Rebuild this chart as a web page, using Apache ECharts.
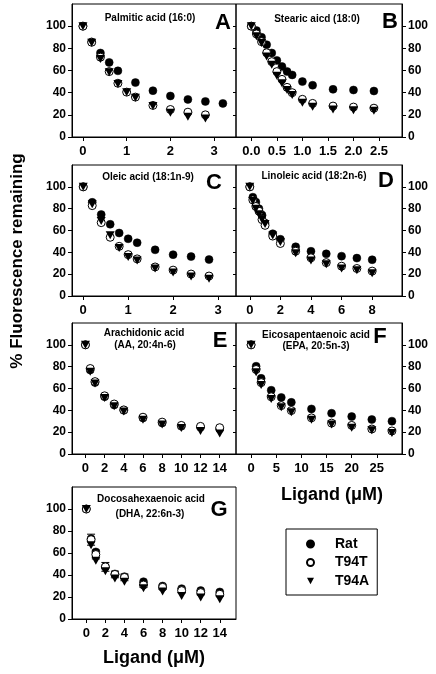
<!DOCTYPE html>
<html><head><meta charset="utf-8">
<script src="https://cdn.jsdelivr.net/npm/echarts@6/dist/echarts.min.js"></script>
<style>html,body{margin:0;padding:0;background:#fff}#c{width:436px;height:674px}</style>
</head><body><div id="c"></div>
<script>
// ---------------- DATA ----------------
const seriesNames = ['Rat', 'T94T', 'T94A'];
const yTicks = [0, 20, 40, 60, 80, 100];

// A: Palmitic acid (16:0)
const xA_rat = [0, 0.2, 0.4, 0.6, 0.8, 1.2, 1.6, 2.0, 2.4, 2.8, 3.2];
const ratA   = [100, 85.8, 75.8, 67.3, 59.7, 49.1, 41.8, 37, 33.9, 32.1, 30.3];
const xA_mut = [0, 0.2, 0.4, 0.6, 0.8, 1.0, 1.2, 1.6, 2.0, 2.4, 2.8];
const t94tA  = [100, 85.5, 72, 59, 48.5, 40.5, 36, 28.5, 24.8, 22.4, 20];
const t94aA  = [100, 85, 70.3, 58.5, 47.9, 40.3, 35.5, 27.9, 21.8, 18.2, 16.7];
const xTicksA = [0, 1, 2, 3];

// B: Stearic acid (18:0)
const xB    = [0, 0.1, 0.2, 0.3, 0.4, 0.5, 0.6, 0.7, 0.8, 1.0, 1.2, 1.6, 2.0, 2.4];
const ratB  = [100, 96, 90, 83.3, 75.8, 69.1, 63.6, 59.1, 56, 50, 46.7, 43, 42.4, 41.5];
const t94tB = [100, 93, 86, 76, 68, 59, 52, 44.8, 40, 34, 30.3, 27.9, 27, 26];
const t94aB = [100, 91, 84.8, 72.7, 65.2, 55.2, 48.5, 42.4, 37.9, 30.9, 27.3, 24.8, 24.2, 23.6];
const xTicksB = [0, 0.5, 1.0, 1.5, 2.0, 2.5];

// C: Oleic acid (18:1n-9)
const xC    = [0, 0.2, 0.4, 0.6, 0.8, 1.0, 1.2, 1.6, 2.0, 2.4, 2.8];
const ratC  = [100, 85.8, 74.6, 65.7, 57.7, 52.4, 48.8, 42.3, 37.9, 36.1, 33.4];
const t94tC = [100, 82.8, 67.2, 53.8, 45.5, 37.9, 34, 26.6, 23.7, 20.1, 18.3];
const t94aC = [100, 84, 68.6, 55.6, 44, 35.8, 32.5, 25.1, 21.6, 17.8, 15.7];
const xTicksC = [0, 1, 2, 3];

// D: Linoleic acid (18:2n-6)
const xD    = [0, 0.2, 0.4, 0.6, 0.8, 1.0, 1.5, 2, 3, 4, 5, 6, 7, 8];
const ratD  = [100, 90.5, 86, 80, 74.2, 66.8, 57, 52, 45.1, 41, 38.6, 36.5, 34.7, 33.2];
const t94tD = [100, 88, 82, 77.7, 70, 64.7, 54.9, 48.1, 41, 35, 30.6, 27.3, 25.2, 22.8];
const t94aD = [100, 87, 80, 75, 70, 66, 55.5, 49.5, 39.2, 32.6, 29.1, 25.2, 23.7, 20.8];
const xTicksD = [0, 2, 4, 6, 8];

// E: Arachidonic acid
const xE    = [0, 0.5, 1, 2, 3, 4, 6, 8, 10, 12, 14];
const ratE  = [100, 77, 65.5, 52.5, 45, 40, 33, 28.5, 25.5, 24.5, 23];
const t94tE = [100, 78.3, 66.3, 53.3, 45.8, 40.4, 33.7, 29.2, 26.2, 25.3, 24.1];
const t94aE = [100, 75.3, 64.5, 51.2, 43.7, 38.9, 31.3, 27.1, 23.8, 21.1, 18.7];
const xTicksE = [0, 2, 4, 6, 8, 10, 12, 14];

// F: Eicosapentaenoic acid
const xF    = [0, 1, 2, 4, 6, 8, 12, 16, 20, 24, 28];
const ratF  = [100, 80.4, 69.3, 58.4, 51.8, 47.3, 41.3, 37.3, 34.3, 31.6, 30.1];
const t94tF = [100, 77.4, 65.4, 52.4, 44.3, 39.8, 33.1, 28.3, 26.2, 22.9, 21.1];
const t94aF = [100, 75, 63.3, 50.3, 42.8, 38.3, 31.3, 27.1, 24.1, 21.7, 19.3];
const xTicksF = [0, 5, 10, 15, 20, 25];

// G: Docosahexaenoic acid
const xG    = [0, 0.5, 1, 2, 3, 4, 6, 8, 10, 12, 14];
const ratG  = [100, 73, 61, 47.5, 41, 38.5, 33.9, 30, 27.6, 25.8, 24.6];
const t94tG = [100, 72.1, 58.6, 47.4, 40.5, 37.8, 30.9, 28.8, 25.8, 24, 22.5];
const t94aG = [100, 67, 52.9, 43.5, 36.9, 33.9, 27.9, 24.9, 21, 19.5, 18];
const errG  = [0, 5, 4, 4, 3, 3, 2, 2, 2, 2, 2];
const xTicksG = [0, 2, 4, 6, 8, 10, 12, 14];

// ---------------- CHART ----------------
const FONT = "'Liberation Sans', Arial, sans-serif";
const zip = (xs, ys) => xs.map((x, i) => [x, ys[i]]);

const panels = [
  {grid:{left:72, top:4, width:164, height:133}, xmin:-0.25, xmax:3.5, ticks:xTicksA, side:'left', fmt:v=>String(v),
   sets:[zip(xA_rat, ratA), zip(xA_mut, t94tA), zip(xA_mut, t94aA)]},
  {grid:{left:236, top:4, width:166, height:133}, xmin:-0.3, xmax:2.95, ticks:xTicksB, side:'right', fmt:v=>Number(v).toFixed(1),
   sets:[zip(xB, ratB), zip(xB, t94tB), zip(xB, t94aB)]},
  {grid:{left:72, top:165, width:164, height:131}, xmin:-0.25, xmax:3.4, ticks:xTicksC, side:'left', fmt:v=>String(v),
   sets:[zip(xC, ratC), zip(xC, t94tC), zip(xC, t94aC)]},
  {grid:{left:236, top:165, width:166, height:131}, xmin:-0.9, xmax:9.95, ticks:xTicksD, side:'right', fmt:v=>String(v),
   sets:[zip(xD, ratD), zip(xD, t94tD), zip(xD, t94aD)]},
  {grid:{left:72, top:323, width:164, height:131}, xmin:-1.4, xmax:15.7, ticks:xTicksE, side:'left', fmt:v=>String(v),
   sets:[zip(xE, ratE), zip(xE, t94tE), zip(xE, t94aE)]},
  {grid:{left:236, top:323, width:166, height:131}, xmin:-3, xmax:30, ticks:xTicksF, side:'right', fmt:v=>String(v),
   sets:[zip(xF, ratF), zip(xF, t94tF), zip(xF, t94aF)]},
  {grid:{left:72, top:487, width:164, height:132}, xmin:-1.5, xmax:15.7, ticks:xTicksG, side:'left', fmt:v=>String(v),
   sets:[zip(xG, ratG), zip(xG, t94tG), zip(xG, t94aG)]}
];

const grids = [], xAxes = [], yAxes = [], series = [];
const symbolDefs = [
  {symbol:'circle', symbolSize:8, itemStyle:{color:'#000', borderColor:'#000', borderWidth:0.5, opacity:1}},
  {symbol:'circle', symbolSize:8, itemStyle:{color:'#fff', borderColor:'#000', borderWidth:1, opacity:1}},
  {symbol:'triangle', symbolSize:[9,8], symbolRotate:180, itemStyle:{color:'#000', opacity:1}}
];

panels.forEach((p, i) => {
  grids.push(Object.assign({show:true, borderColor:'#000', borderWidth:1, backgroundColor:'transparent'}, p.grid));
  xAxes.push({
    type:'value', gridIndex:i, min:p.xmin, max:p.xmax,
    axisLine:{show:true, onZero:false, lineStyle:{color:'#000', width:1}},
    axisTick:{show:true, inside:false, length:4, lineStyle:{color:'#000'}, customValues:p.ticks},
    axisLabel:{show:true, customValues:p.ticks, formatter:p.fmt, color:'#000', fontFamily:FONT, fontWeight:'bold', fontSize:13, margin:8},
    splitLine:{show:false}
  });
  const yMain = yAxes.length;
  yAxes.push({
    type:'value', gridIndex:i, min:0, max:120, position:p.side,
    axisLine:{show:true, onZero:false, lineStyle:{color:'#000', width:1}},
    axisTick:{show:true, inside:false, length:4, lineStyle:{color:'#000'}, customValues:yTicks},
    axisLabel:{show:true, customValues:yTicks, color:'#000', fontFamily:FONT, fontWeight:'bold', fontSize:12, margin:6},
    splitLine:{show:false}
  });
  if (p.side === 'left' && i < 6) {
    yAxes.push({
      type:'value', gridIndex:i, min:0, max:120, position:'right',
      axisLine:{show:false, onZero:false},
      axisTick:{show:true, inside:true, length:3, lineStyle:{color:'#000'}, customValues:yTicks},
      axisLabel:{show:false}, splitLine:{show:false}
    });
  }
  p.sets.forEach((d, k) => {
    series.push(Object.assign({
      type:'scatter', name:seriesNames[k], xAxisIndex:i, yAxisIndex:yMain, data:d, z:2+k
    }, symbolDefs[k]));
  });
  if (i === 6) {
    series.push({
      type:'custom', xAxisIndex:i, yAxisIndex:yMain, z:1,
      data: xG.map((x, j) => [x, t94tG[j], errG[j]]).filter(r => r[2] > 0),
      renderItem: function (params, api) {
        const x = api.value(0), y = api.value(1), e = api.value(2);
        const hi = api.coord([x, y + e]);
        const lo = api.coord([x, y - e]);
        const style = {stroke:'#000', lineWidth:1};
        return {type:'group', children:[
          {type:'line', shape:{x1:hi[0], y1:hi[1], x2:lo[0], y2:lo[1]}, style:style},
          {type:'line', shape:{x1:hi[0]-4, y1:hi[1], x2:hi[0]+4, y2:hi[1]}, style:style},
          {type:'line', shape:{x1:lo[0]-4, y1:lo[1], x2:lo[0]+4, y2:lo[1]}, style:style}
        ]};
      }
    });
  }
});

const titleFont = 'bold 10px ' + FONT;
const letterFont = 'bold 22px ' + FONT;
const txt = (text, x, y, font, align) => ({type:'text', x:x, y:y, z:10,
  style:{text:text, font:font, fill:'#000', textAlign:align || 'center', textVerticalAlign:'middle'}});

const graphics = [
  txt('Palmitic acid (16:0)', 150, 18, titleFont), txt('A', 223, 23, letterFont),
  txt('Stearic aicd (18:0)', 317, 19, titleFont), txt('B', 390, 22, letterFont),
  txt('Oleic acid (18:1n-9)', 148, 177, titleFont), txt('C', 214, 183, letterFont),
  txt('Linoleic acid (18:2n-6)', 314, 176, titleFont), txt('D', 386, 181, letterFont),
  txt('Arachidonic acid', 144, 333, titleFont), txt('(AA, 20:4n-6)', 145, 345, titleFont), txt('E', 220, 341, letterFont),
  txt('Eicosapentaenoic acid', 316, 335, titleFont), txt('(EPA, 20:5n-3)', 316, 346, titleFont), txt('F', 380, 337, letterFont),
  txt('Docosahexaenoic acid', 151, 499, titleFont), txt('(DHA, 22:6n-3)', 150, 514, titleFont), txt('G', 219, 510, letterFont),
  txt('Ligand (\u03bcM)', 332, 495, 'bold 18px ' + FONT),
  txt('Ligand (\u03bcM)', 154, 658, 'bold 18px ' + FONT),
  {type:'text', x:17, y:261, rotation:Math.PI/2, z:10,
   style:{text:'% Fluorescence remaining', font:'bold 17px ' + FONT, fill:'#000', textAlign:'center', textVerticalAlign:'middle'}}
];

const chart = echarts.init(document.getElementById('c'), null, {renderer:'canvas'});
chart.setOption({
  animation:false,
  backgroundColor:'#fff',
  grid:grids, xAxis:xAxes, yAxis:yAxes, series:series,
  legend:{
    show:true, orient:'vertical', left:286, top:529,
    data:[{name:'Rat', icon:'circle'}, {name:'T94T', icon:'circle'}, {name:'T94A', icon:'path://M0,0L10,0L5,9Z'}],
    itemWidth:7, itemHeight:7, itemGap:4.5,
    borderColor:'#000', borderWidth:1, borderRadius:0,
    padding:[8, 8, 7, 20],
    selectedMode:false,
    textStyle:{fontFamily:FONT, fontWeight:'bold', fontSize:14, color:'#000', lineHeight:14, padding:[0,0,0,16]}
  },
  graphic:graphics
});
</script></body></html>
